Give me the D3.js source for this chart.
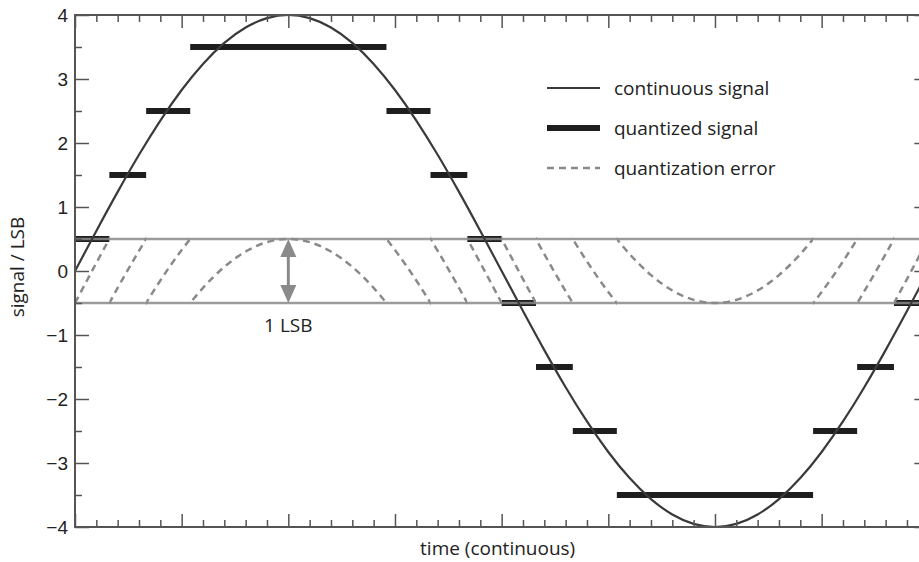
<html>
<script src='https://d3js.org/d3.v7.min.js'></script>

<style>
body { margin: 0; background: white; }
svg { display: block; font-family: 'Open Sans', Lato, sans-serif; }
.axis text { font-size: 19px; fill: #222; }
.axis line { stroke: #555; stroke-width: 1.5; }
</style>

<body>
<svg></svg>

<script>
// sampled signal (time in tick units, signal in LSB)
var sampleTime = [0, 0.2, 0.4, 0.6, 0.8, 1.0, 1.2, 1.4, 1.6, 1.8, 2.0, 2.2, 2.4, 2.6, 2.8, 3.0, 3.2, 3.4, 3.6, 3.8,
                  4.0, 4.2, 4.4, 4.6, 4.8, 5.0, 5.2, 5.4, 5.6, 5.8, 6.0, 6.2, 6.4, 6.6, 6.8, 7.0, 7.2, 7.4, 7.6, 7.8, 8.0];
var signalValue = [0, 0.626, 1.236, 1.816, 2.351, 2.828, 3.236, 3.564, 3.804, 3.951, 4.0,
                   3.951, 3.804, 3.564, 3.236, 2.828, 2.351, 1.816, 1.236, 0.626, 0,
                   -0.626, -1.236, -1.816, -2.351, -2.828, -3.236, -3.564, -3.804, -3.951, -4.0,
                   -3.951, -3.804, -3.564, -3.236, -2.828, -2.351, -1.816, -1.236, -0.626, 0];

// quantized signal: level and the time span it holds
var qLevel = [0.5, 1.5, 2.5, 3.5, 2.5, 1.5, 0.5, -0.5, -1.5, -2.5, -3.5, -2.5, -1.5, -0.5];
var qStart = [0, 0.322, 0.667, 1.080, 2.920, 3.333, 3.678, 4.0, 4.322, 4.667, 5.080, 6.920, 7.333, 7.678];
var qEnd   = [0.322, 0.667, 1.080, 2.920, 3.333, 3.678, 4.0, 4.322, 4.667, 5.080, 6.920, 7.333, 7.678, 8.0];

var yMajor = [-4, -3, -2, -1, 0, 1, 2, 3, 4];
var yMinor = [-3.5, -2.5, -1.5, -0.5, 0.5, 1.5, 2.5, 3.5];
var xMajor = [0, 1, 2, 3, 4, 5, 6, 7, 8];
var errorBand = [0.5, -0.5];

var legendLabels = ["continuous signal", "quantized signal", "quantization error"];

const width = 919, height = 562;
const plotLeft = 75, plotTop = 15, plotRight = 928.3, plotBottom = 527;

const svg = d3.select('svg').attr('width', width).attr('height', height);

const x = d3.scaleLinear().domain([0, 8]).range([plotLeft, plotRight]);
const y = d3.scaleLinear().domain([-4, 4]).range([plotBottom, plotTop]);

var xMinor = [];
for (let i = 0; i < 8; i++) {
    for (let j = 1; j < 5; j++) xMinor.push(i + j * 0.2);
}

var points = sampleTime.map(function(t, i) { return [t, signalValue[i]]; });
const line = d3.line()
    .x(function(d) { return x(d[0]); })
    .y(function(d) { return y(d[1]); })
    .curve(d3.curveNatural);

// quantized bars
svg.append('g').selectAll('line')
    .data(qLevel)
    .enter()
    .append('line')
    .attr('x1', function(d, i) { return x(qStart[i]); })
    .attr('x2', function(d, i) { return x(qEnd[i]); })
    .attr('y1', function(d) { return y(d); })
    .attr('y2', function(d) { return y(d); })
    .attr('stroke', '#1e1e1e')
    .attr('stroke-width', 6);

// +-0.5 LSB band
svg.append('g').selectAll('line')
    .data(errorBand)
    .enter()
    .append('line')
    .attr('x1', x(0)).attr('x2', x(8))
    .attr('y1', function(d) { return y(d); })
    .attr('y2', function(d) { return y(d); })
    .attr('stroke', '#8a8a8a')
    .attr('stroke-opacity', 0.85)
    .attr('stroke-width', 2.5);

// quantization error: the signal shifted down by its level, clipped to each span
const defs = svg.append('defs');
qLevel.forEach(function(q, i) {
    defs.append('clipPath').attr('id', 'clip' + i)
        .append('rect')
        .attr('x', x(qStart[i])).attr('width', x(qEnd[i]) - x(qStart[i]))
        .attr('y', plotTop).attr('height', plotBottom - plotTop);
    svg.append('g').attr('clip-path', 'url(#clip' + i + ')')
        .append('path')
        .attr('d', line(points))
        .attr('transform', 'translate(0,' + (y(0) - y(q)) + ')')
        .attr('fill', 'none')
        .attr('stroke', '#8a8a8a')
        .attr('stroke-width', 2.5)
        .attr('stroke-dasharray', '7,5');
});

// continuous signal
svg.append('path')
    .attr('d', line(points))
    .attr('fill', 'none')
    .attr('stroke', '#3a3a3a')
    .attr('stroke-width', 2.2);

// 1 LSB arrow
const ax = x(2);
svg.append('line')
    .attr('x1', ax).attr('x2', ax)
    .attr('y1', y(0.5) + 14).attr('y2', y(-0.5) - 14)
    .attr('stroke', '#8a8a8a').attr('stroke-width', 3);
svg.append('path')
    .attr('d', 'M' + ax + ',' + y(0.5) + 'L' + (ax - 8) + ',' + (y(0.5) + 18) + 'L' + (ax + 8) + ',' + (y(0.5) + 18) + 'Z')
    .attr('fill', '#8a8a8a');
svg.append('path')
    .attr('d', 'M' + ax + ',' + y(-0.5) + 'L' + (ax - 8) + ',' + (y(-0.5) - 18) + 'L' + (ax + 8) + ',' + (y(-0.5) - 18) + 'Z')
    .attr('fill', '#8a8a8a');
svg.append('text')
    .attr('x', ax).attr('y', y(-0.5) + 29)
    .attr('text-anchor', 'middle')
    .style('font-size', '19px').style('fill', '#222')
    .text('1 LSB');

// frame
svg.append('rect')
    .attr('x', plotLeft).attr('y', plotTop)
    .attr('width', plotRight - plotLeft).attr('height', plotBottom - plotTop)
    .attr('fill', 'none').attr('stroke', '#555').attr('stroke-width', 2);

// axes (ticks pointing inward)
function addAxis(axis, tx, ty) {
    var g = svg.append('g').attr('class', 'axis')
        .attr('transform', 'translate(' + tx + ',' + ty + ')')
        .call(axis);
    g.select('.domain').remove();
    return g;
}
addAxis(d3.axisLeft(y).tickValues(yMajor).tickSize(-14).tickPadding(7)
    .tickFormat(function(d) { return d < 0 ? '\u2212' + Math.abs(d) : d; }), plotLeft, 0);
addAxis(d3.axisLeft(y).tickValues(yMinor).tickSize(-7).tickFormat(''), plotLeft, 0);
addAxis(d3.axisRight(y).tickValues(yMajor).tickSize(-14).tickFormat(''), plotRight, 0);
addAxis(d3.axisRight(y).tickValues(yMinor).tickSize(-7).tickFormat(''), plotRight, 0);
addAxis(d3.axisBottom(x).tickValues(xMajor).tickSize(-13).tickFormat(''), 0, plotBottom);
addAxis(d3.axisBottom(x).tickValues(xMinor).tickSize(-7).tickFormat(''), 0, plotBottom);
addAxis(d3.axisTop(x).tickValues(xMajor).tickSize(-13).tickFormat(''), 0, plotTop);
addAxis(d3.axisTop(x).tickValues(xMinor).tickSize(-7).tickFormat(''), 0, plotTop);

// axis titles
svg.append('text')
    .attr('x', (plotLeft + plotRight) / 2 - 4).attr('y', 555)
    .attr('text-anchor', 'middle')
    .style('font-size', '19px').style('fill', '#222')
    .text('time (continuous)');
svg.append('text')
    .attr('transform', 'translate(24,' + 267 + ') rotate(-90)')
    .attr('text-anchor', 'middle')
    .style('font-size', '19px').style('fill', '#222')
    .text('signal / LSB');

// legend
const legend = svg.append('g').selectAll('g')
    .data(legendLabels)
    .enter()
    .append('g')
    .attr('transform', function(d, i) { return 'translate(547,' + (88 + i * 40) + ')'; });
legend.append('line')
    .attr('x1', 0).attr('x2', 53)
    .attr('stroke', function(d, i) { return ['#3a3a3a', '#1e1e1e', '#8a8a8a'][i]; })
    .attr('stroke-width', function(d, i) { return [2, 6, 2.5][i]; })
    .attr('stroke-dasharray', function(d, i) { return i == 2 ? '7,5' : null; });
legend.append('text')
    .attr('x', 67).attr('y', 7)
    .style('font-size', '19px').style('fill', '#222')
    .text(function(d) { return d; });
</script>
</body>
</html>
